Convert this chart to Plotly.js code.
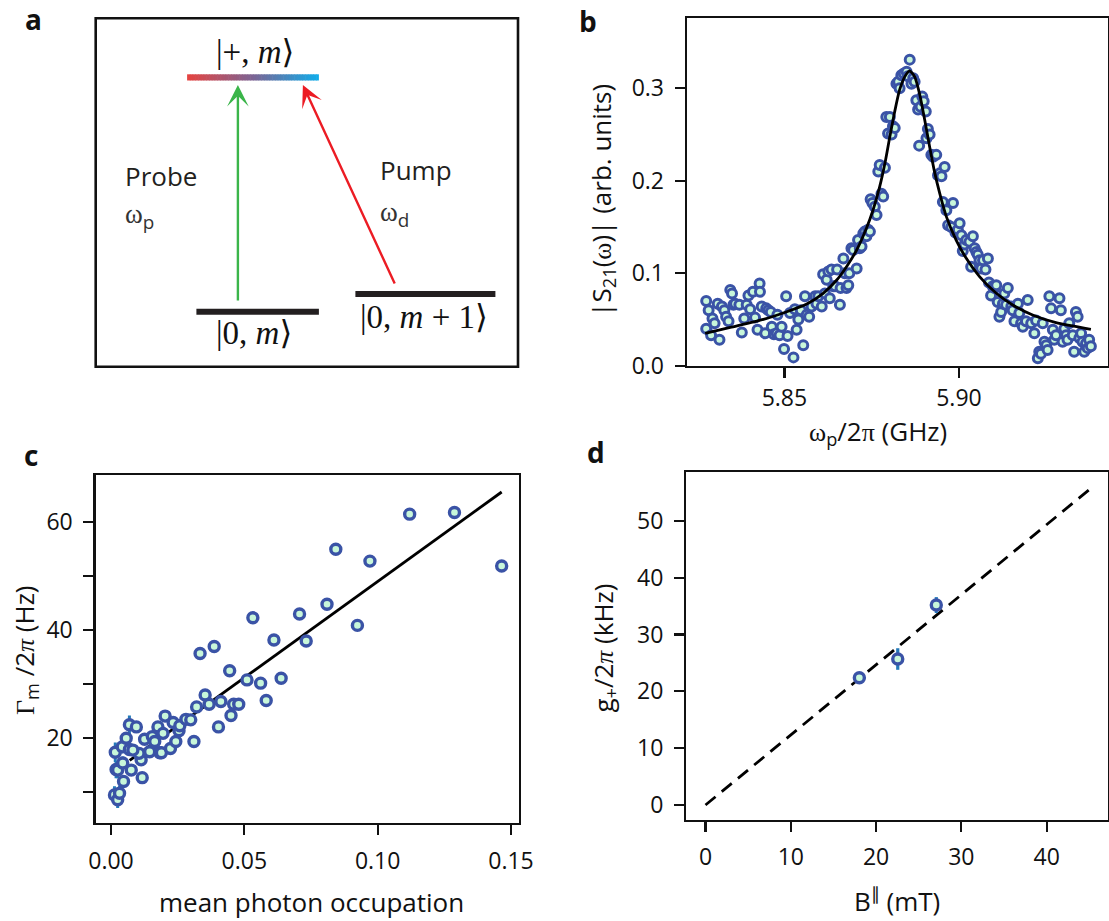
<!DOCTYPE html>
<html><head><meta charset="utf-8">
<script src="https://cdn.plot.ly/plotly-3.0.1.min.js"></script>
<style>html,body{margin:0;padding:0;background:#fff}</style>
</head><body><div id="chart" style="width:1109px;height:921px"></div>
<script>
// ---------- panel b: transmission spectrum ----------
const bFreq = [5.8276,5.8283,5.8276,5.8290,5.8294,5.8300,5.8309,5.8314,5.8321,5.8328,5.8333,5.8340,5.8345,5.8350,5.8354,5.8359,5.8371,5.8378,5.8385,5.8392,5.8397,5.8402,5.8410,5.8416,5.8423,5.8429,5.8430,5.8435,5.8445,5.8448,5.8454,5.8461,5.8464,5.8470,5.8478,5.8480,5.8486,5.8492,5.8499,5.8505,5.8509,5.8516,5.8526,5.8530,5.8535,5.8540,5.8547,5.8554,5.8559,5.8564,5.8571,5.8578,5.8588,5.8592,5.8597,5.8607,5.8611,5.8616,5.8621,5.8626,5.8630,5.8635,5.8640,5.8645,5.8651,5.8659,5.8661,5.8669,5.8673,5.8678,5.8683,5.8686,5.8692,5.8697,5.8707,5.8711,5.8716,5.8721,5.8726,5.8730,5.8735,5.8740,5.8745,5.8747,5.8752,5.8759,5.8764,5.8769,5.8773,5.8778,5.8783,5.8788,5.8792,5.8797,5.8802,5.8807,5.8811,5.8816,5.8821,5.8826,5.8830,5.8835,5.8842,5.8850,5.8854,5.8859,5.8864,5.8869,5.8873,5.8878,5.8883,5.8886,5.8890,5.8895,5.8899,5.8905,5.8907,5.8911,5.8916,5.8921,5.8926,5.8935,5.8940,5.8945,5.8950,5.8954,5.8959,5.8964,5.8969,5.8978,5.8983,5.8990,5.8997,5.9002,5.9007,5.9011,5.9016,5.9021,5.9030,5.9035,5.9040,5.9045,5.9050,5.9054,5.9059,5.9064,5.9069,5.9076,5.9083,5.9086,5.9092,5.9097,5.9102,5.9107,5.9111,5.9116,5.9121,5.9126,5.9130,5.9135,5.9140,5.9150,5.9154,5.9159,5.9169,5.9173,5.9178,5.9183,5.9192,5.9197,5.9207,5.9216,5.9221,5.9226,5.9230,5.9235,5.9240,5.9245,5.9250,5.9254,5.9259,5.9264,5.9269,5.9273,5.9278,5.9288,5.9292,5.9297,5.9302,5.9307,5.9311,5.9316,5.9326,5.9330,5.9335,5.9340,5.9345,5.9350,5.9354,5.9359,5.9364,5.9369,5.9373,5.9378];
const bAmp = [0.070,0.060,0.040,0.033,0.051,0.046,0.067,0.028,0.064,0.060,0.053,0.048,0.082,0.078,0.066,0.067,0.066,0.036,0.051,0.066,0.076,0.061,0.080,0.052,0.039,0.089,0.080,0.064,0.035,0.062,0.060,0.058,0.042,0.034,0.035,0.055,0.033,0.042,0.018,0.075,0.032,0.057,0.009,0.061,0.039,0.050,0.060,0.022,0.075,0.055,0.053,0.064,0.075,0.067,0.075,0.064,0.099,0.078,0.093,0.102,0.073,0.104,0.086,0.086,0.104,0.066,0.084,0.116,0.100,0.084,0.087,0.100,0.127,0.125,0.105,0.136,0.127,0.129,0.143,0.145,0.140,0.147,0.145,0.180,0.176,0.172,0.163,0.210,0.217,0.186,0.183,0.214,0.269,0.251,0.269,0.250,0.259,0.257,0.305,0.307,0.300,0.314,0.316,0.318,0.313,0.331,0.305,0.311,0.307,0.287,0.277,0.238,0.280,0.291,0.286,0.275,0.246,0.256,0.250,0.228,0.226,0.228,0.206,0.208,0.205,0.177,0.215,0.168,0.152,0.150,0.176,0.144,0.147,0.154,0.141,0.124,0.131,0.136,0.134,0.107,0.140,0.127,0.123,0.120,0.114,0.105,0.114,0.104,0.116,0.090,0.076,0.086,0.084,0.087,0.069,0.053,0.058,0.067,0.078,0.066,0.084,0.064,0.060,0.048,0.067,0.057,0.046,0.042,0.048,0.071,0.046,0.035,0.049,0.008,0.015,0.013,0.046,0.026,0.022,0.017,0.075,0.062,0.039,0.028,0.033,0.073,0.060,0.026,0.040,0.033,0.028,0.046,0.033,0.015,0.058,0.053,0.030,0.035,0.026,0.015,0.024,0.019,0.028,0.021];
const bFitFreq = [5.8273,5.8345,5.8440,5.8507,5.8564,5.8611,5.8650,5.8678,5.8707,5.8735,5.8754,5.8773,5.8788,5.8802,5.8816,5.8830,5.8845,5.8859,5.8873,5.8888,5.8902,5.8916,5.8930,5.8945,5.8964,5.8992,5.9021,5.9059,5.9107,5.9154,5.9211,5.9278,5.9378];
const bFitAmp = [0.0350,0.0415,0.0501,0.0584,0.0667,0.0783,0.0927,0.1071,0.1251,0.1486,0.1684,0.1936,0.2189,0.2477,0.2748,0.2982,0.3126,0.3188,0.3126,0.2928,0.2658,0.2369,0.2099,0.1864,0.1612,0.1359,0.1161,0.0963,0.0783,0.0656,0.0548,0.0465,0.0393];
const bTickVals = [0.0,0.1,0.2,0.3];
const bTickText = ['0.0','0.1','0.2','0.3'];
const bXTickVals = [5.85,5.90];
const bXTickText = ['5.85','5.90'];

// ---------- panel c: damping vs photon occupation ----------
const cOcc = [0.0013,0.0025,0.0032,0.0016,0.0019,0.0025,0.0044,0.0047,0.0042,0.0057,0.0069,0.0069,0.0095,0.0076,0.0113,0.0117,0.0105,0.0082,0.0126,0.0145,0.0155,0.0164,0.0176,0.0183,0.0189,0.0195,0.0203,0.0223,0.0233,0.0243,0.0255,0.0258,0.0281,0.0299,0.0311,0.0321,0.0353,0.0368,0.0334,0.0387,0.0403,0.0412,0.0445,0.0450,0.0460,0.0479,0.0510,0.0532,0.0561,0.0582,0.0611,0.0638,0.0707,0.0732,0.0810,0.0843,0.0924,0.0971,0.1120,0.1288,0.1465];
const cGamma = [9.4,8.5,9.7,17.3,14.1,14.0,15.3,11.9,18.3,19.9,17.8,22.4,22.0,14.0,15.9,12.6,17.1,17.7,19.7,17.4,20.2,19.3,22.0,17.2,17.2,20.8,24.0,18.0,22.8,19.3,21.3,22.2,23.4,23.3,19.3,25.7,27.9,26.2,35.6,36.9,22.0,26.7,32.4,24.1,26.2,26.2,30.7,42.2,30.1,26.9,38.1,31.0,42.9,37.9,44.7,54.9,40.8,52.7,61.4,61.7,51.8];
const cGammaErr = [1.6,1.5,1.4,1.8,1.6,1.5,1.2,1.2,1.2,1.0,1.0,1.7,0.8,0.8,0,0,0,0,0,0,0,0,0,0,0,0,0,0,0,0,0,0,0,0,0,0,0,0,0,0,0,0,0,0,0,0,0,0,0,0,0,0,0,0,0,0,0,0,0,0,0];
const cFitOcc = [0.007,0.0384,0.0712,0.1465];
const cFitGamma = [15.8,27.0,38.7,65.5];
const cTickVals = [0,0.05,0.10,0.15];
const cTickText = ['0.00','0.05','0.10','0.15'];
const cYTickVals = [10,20,30,40,50,60];
const cYTickText = ['','20','','40','','60'];

// ---------- panel d: coupling vs field ----------
const dField = [18.04,22.54,27.06];
const dCoupling = [22.4,25.7,35.2];
const dCouplingErr = [0.8,1.9,1.4];
const dFitField = [0,45.3];
const dFitCoupling = [0,55.9];
const dXTickVals = [0,10,20,30,40];
const dYTickVals = [0,10,20,30,40,50];

// ---------- styling ----------
const W = 1109, H = 921;
const P = x => x / W;
const Q = y => 1 - y / H;
const EDGE = '#3a53a6';
const FILL = '#c8f7da';
const ERR = '#2379b9';
const FONT = 'Open Sans, Noto Sans, sans-serif';
const SERIF = 'Liberation Serif, DejaVu Serif, serif';

function axis(extra) {
  return Object.assign({
    showline: true, mirror: true, linecolor: '#111', linewidth: 2.4,
    ticks: 'outside', ticklen: 10, tickwidth: 2.2, tickcolor: '#111',
    showgrid: false, zeroline: false, fixedrange: true,
    tickfont: {family: FONT, size: 23, color: '#111'},
    tickmode: 'array', automargin: false
  }, extra);
}

const traces = [
  {x: bFreq, y: bAmp, xaxis: 'x', yaxis: 'y', mode: 'markers', type: 'scatter',
   marker: {size: 9, color: FILL, line: {color: EDGE, width: 3}}, cliponaxis: false},
  {x: bFitFreq, y: bFitAmp, xaxis: 'x', yaxis: 'y', mode: 'lines', type: 'scatter',
   line: {color: '#000', width: 2.8, shape: 'spline', smoothing: 0.6}},
  {x: cFitOcc, y: cFitGamma, xaxis: 'x2', yaxis: 'y2', mode: 'lines', type: 'scatter',
   line: {color: '#000', width: 2.8}},
  {x: cOcc, y: cGamma, xaxis: 'x2', yaxis: 'y2', mode: 'markers', type: 'scatter',
   error_y: {type: 'data', array: cGammaErr, visible: true, color: ERR, thickness: 3, width: 0},
   marker: {size: 10, color: FILL, line: {color: EDGE, width: 3.4}}, cliponaxis: false},
  {x: dFitField, y: dFitCoupling, xaxis: 'x3', yaxis: 'y3', mode: 'lines', type: 'scatter',
   line: {color: '#000', width: 2.8, dash: '13px,8px'}},
  {x: dField, y: dCoupling, xaxis: 'x3', yaxis: 'y3', mode: 'markers', type: 'scatter',
   error_y: {type: 'data', array: dCouplingErr, visible: true, color: ERR, thickness: 3.2, width: 0},
   marker: {size: 10, color: FILL, line: {color: EDGE, width: 3.4}}}
];

// ---------- panel a: level diagram ----------
const shapes = [];
shapes.push({type: 'rect', xref: 'paper', yref: 'paper', x0: P(95.7), x1: P(518), y0: Q(366.7), y1: Q(18.3),
  line: {color: '#111', width: 2.6}, fillcolor: 'rgba(0,0,0,0)'});
const gradStops = [[230,68,64],[124,100,148],[16,172,234]];
const NSEG = 48, gx0 = 187.1, gx1 = 318.9;
for (let i = 0; i < NSEG; i++) {
  const t = (i + 0.5) / NSEG;
  let c;
  if (t < 0.5) { const u = t / 0.5; c = gradStops[0].map((v, k) => Math.round(v + (gradStops[1][k] - v) * u)); }
  else { const u = (t - 0.5) / 0.5; c = gradStops[1].map((v, k) => Math.round(v + (gradStops[2][k] - v) * u)); }
  const xa = gx0 + (gx1 - gx0) * i / NSEG, xb = gx0 + (gx1 - gx0) * (i + 1) / NSEG + 0.6;
  shapes.push({type: 'rect', xref: 'paper', yref: 'paper', x0: P(xa), x1: P(Math.min(xb, gx1)), y0: Q(80.5), y1: Q(74.3),
    line: {width: 0}, fillcolor: `rgb(${c[0]},${c[1]},${c[2]})`});
}
shapes.push({type: 'line', xref: 'paper', yref: 'paper', x0: P(196.4), x1: P(318.9), y0: Q(311.7), y1: Q(311.7),
  line: {color: '#231f20', width: 6}});
shapes.push({type: 'line', xref: 'paper', yref: 'paper', x0: P(355.4), x1: P(495.4), y0: Q(294), y1: Q(294),
  line: {color: '#231f20', width: 6}});

function txt(text, x, y, size, opts) {
  return Object.assign({text: text, xref: 'paper', yref: 'paper', x: P(x), y: Q(y), showarrow: false,
    xanchor: 'center', yanchor: 'middle', font: {family: FONT, size: size, color: '#111'}}, opts || {});
}
const serif = s => `<span style="font-family:${SERIF}">${s}</span>`;
const KET = {family: SERIF, size: 33, color: '#111'};

const annotations = [
  // arrows
  {text: '', xref: 'paper', yref: 'paper', x: P(237.9), y: Q(85), ax: 0, ay: 217, showarrow: true,
   arrowhead: 3, arrowsize: 1.5, arrowwidth: 2.4, arrowcolor: '#3bb54a', standoff: 0},
  {text: '', xref: 'paper', yref: 'paper', x: P(302.9), y: Q(85), ax: 92.5, ay: 200, showarrow: true,
   arrowhead: 3, arrowsize: 1.5, arrowwidth: 2.4, arrowcolor: '#ec1c24', standoff: 0},
  // kets
  txt('|+, <i>m</i>⟩', 255, 52, 33, {font: KET}),
  txt('|0, <i>m</i>⟩', 254, 333, 33, {font: KET}),
  txt('|0, <i>m</i> + 1⟩', 424, 317, 33, {font: KET}),
  txt('Probe', 123, 176, 26, {xanchor: 'left', font: {family: FONT, size: 26, color: '#231f20'}}),
  txt(serif('ω') + '<sub>p</sub>', 123, 217, 27, {xanchor: 'left', font: {family: FONT, size: 27, color: '#333'}}),
  txt('Pump', 377.5, 170, 26, {xanchor: 'left', font: {family: FONT, size: 26, color: '#231f20'}}),
  txt(serif('ω') + '<sub>d</sub>', 377.5, 215, 27, {xanchor: 'left', font: {family: FONT, size: 27, color: '#333'}}),
  // panel letters
  txt('<b>a</b>', 33, 19, 28),
  txt('<b>b</b>', 588, 21, 28),
  txt('<b>c</b>', 31, 455, 28),
  txt('<b>d</b>', 596, 452, 28),
  // axis titles
  txt('|S<sub>21</sub>(' + serif('ω') + ')| (arb. units)', 601.7, 200, 26, {textangle: -90}),
  txt(serif('ω') + '<sub>p</sub>/2' + serif('π') + ' (GHz)', 878, 432, 26),
  txt(serif('Γ') + '<sub>m</sub> /2' + serif('<i>π</i>') + ' (Hz)', 25, 650, 26, {textangle: -90}),
  txt('mean photon occupation', 311.7, 902, 26),
  txt('g<sub>+</sub>/2' + serif('<i>π</i>') + ' (kHz)', 603.6, 648, 26, {textangle: -90}),
  txt('B<sup>∥</sup> (mT)', 897, 900, 26)
];

const layout = {
  width: W, height: H, margin: {l: 0, r: 0, t: 0, b: 0},
  paper_bgcolor: '#fff', plot_bgcolor: 'rgba(0,0,0,0)', showlegend: false,
  font: {family: FONT, color: '#111'},
  xaxis: axis({domain: [P(687), P(1108)], range: [5.8221, 5.9427], tickvals: bXTickVals, ticktext: bXTickText, anchor: 'y', ticklabelstandoff: 0}),
  yaxis: axis({domain: [Q(365.7), Q(18.3)], range: [0, 0.3757], tickvals: bTickVals, ticktext: bTickText, anchor: 'x', ticklabelstandoff: 6}),
  xaxis2: axis({domain: [P(95.7), P(518.5)], range: [-0.00574, 0.15281], tickvals: cTickVals, ticktext: cTickText, anchor: 'y2', ticklabelstandoff: 6}),
  yaxis2: axis({domain: [Q(823), Q(475)], range: [4.2, 68.65], tickvals: cYTickVals, ticktext: cYTickText, anchor: 'x2', ticklabelstandoff: 6}),
  xaxis3: axis({domain: [P(686.3), P(1108)], range: [-2.25, 47.19], tickvals: dXTickVals, anchor: 'y3', ticklabelstandoff: 5}),
  yaxis3: axis({domain: [Q(820), Q(472.3)], range: [-2.64, 58.57], tickvals: dYTickVals, anchor: 'x3', ticklabelstandoff: 6}),
  shapes: shapes,
  annotations: annotations
};

Plotly.newPlot('chart', traces, layout, {displayModeBar: false, staticPlot: true});
</script>
</body></html>
